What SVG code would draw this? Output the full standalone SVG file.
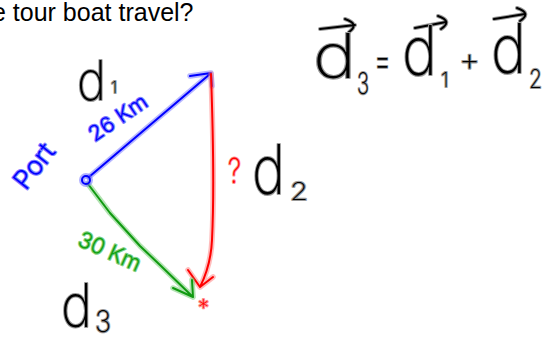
<svg xmlns="http://www.w3.org/2000/svg" width="542" height="338" viewBox="0 0 542 338">
<style>
.q{font-family:"Liberation Sans",Arial,sans-serif;font-size:25px;fill:#000}
.h{font-family:Inter,"Liberation Sans",sans-serif;font-weight:200;fill:#000;stroke:#9a9a9a;stroke-width:2.2;paint-order:stroke;stroke-linejoin:round}
.hb{fill:#0000ff;stroke:#7f7fff;font-weight:300}
.hg{fill:#10a010;stroke:#80d080;font-weight:300}
.hr{fill:#ff0000;stroke:#ff9090}
.line{fill:none;stroke-linecap:round;stroke-linejoin:round}
.halo{stroke-width:5.5;opacity:.5}
.core{stroke-width:2}
.blue{stroke:#0000ff}
.bhalo{stroke:#6f6fff}
.red{stroke:#ff0000}
.rhalo{stroke:#ff7a7a}
.green{stroke:#109a10}
.ghalo{stroke:#66c866}
.ink{fill:none;stroke:#000;stroke-width:2;stroke-linecap:round;stroke-linejoin:round}
.inkhalo{fill:none;stroke:#999;stroke-width:4;stroke-linecap:round;stroke-linejoin:round}
</style>
<g id="question-text">
<text class="q" x="-8" y="21">e tour boat travel?</text>
</g>
<g id="connectors">
<g id="d1-arrow">
<path class="line halo bhalo" d="M89,177 L210,74 M190,76 L211,73 L212,86"/>
<path class="line core blue" d="M89,177 L210,74 M190,76 L211,73 L212,86"/>
</g>
<g id="d2-arrow">
<path class="line halo rhalo" d="M211,74 C213,130 214,200 212,240 C211,262 205,277 200,287 M188,270 L200,287 L213,277"/>
<path class="line core red" d="M211,74 C213,130 214,200 212,240 C211,262 205,277 200,287 M188,270 L200,287 L213,277"/>
</g>
<g id="d3-arrow">
<path class="line halo ghalo" d="M88,184 L110,213 L140,246 L160,265 L193,297 M173,288 L193,297 L192,280"/>
<path class="line core green" d="M88,184 L110,213 L140,246 L160,265 L193,297 M173,288 L193,297 L192,280"/>
</g>
</g>
<g id="port">
<circle cx="86" cy="180" r="4" fill="none" stroke="#6f6fff" stroke-width="6" opacity=".55"/>
<circle cx="86" cy="180" r="4" fill="none" stroke="#0000ff" stroke-width="2"/>
<text class="h hb" font-size="26" text-anchor="middle" transform="translate(34,166) rotate(-52)" y="9" textLength="50" lengthAdjust="spacingAndGlyphs">Port</text>
</g>
<g id="d1-label">
<text class="h" x="77" y="100" font-size="55"><tspan textLength="29" lengthAdjust="spacingAndGlyphs">d</tspan><tspan x="111" y="93" font-size="16">1</tspan></text>
<text class="h hb" font-size="21" text-anchor="middle" transform="translate(118,118) rotate(-34)" y="7" textLength="66" lengthAdjust="spacingAndGlyphs">26 Km</text>
</g>
<g id="d2-label">
<text class="h hr" x="228" y="183" font-size="34" textLength="13" lengthAdjust="spacingAndGlyphs">?</text>
<text class="h" x="252" y="194" font-size="68"><tspan textLength="33" lengthAdjust="spacingAndGlyphs">d</tspan><tspan x="290" y="200" font-size="25" textLength="18" lengthAdjust="spacingAndGlyphs">2</tspan></text>
</g>
<g id="d3-label">
<text class="h hg" font-size="22" text-anchor="middle" transform="translate(110,251) rotate(24)" y="8" textLength="66" lengthAdjust="spacingAndGlyphs">30 Km</text>
<text class="h" x="61" y="327" font-size="60"><tspan textLength="31" lengthAdjust="spacingAndGlyphs">d</tspan><tspan x="95" y="332" font-size="30" textLength="16" lengthAdjust="spacingAndGlyphs">3</tspan></text>
</g>
<g id="destination">
<text class="h hr" x="198" y="315" font-size="22" font-weight="700">*</text>
</g>
<g id="equation">
<path class="inkhalo" d="M320,29 L355,25 M345,19 Q360,24 349,32 M415,28 L446,22 M438,16 Q453,21 441,29 M494,19 L525,14 M517,8 Q532,13 520,21"/>
<path class="ink" d="M320,29 L355,25 M345,19 Q360,24 349,32 M415,28 L446,22 M438,16 Q453,21 441,29 M494,19 L525,14 M517,8 Q532,13 520,21"/>
<text class="h" x="313" y="78" font-size="62"><tspan textLength="43" lengthAdjust="spacingAndGlyphs">d</tspan><tspan x="357" y="94" font-size="30" textLength="12" lengthAdjust="spacingAndGlyphs">3</tspan><tspan x="374" y="74" font-size="40" textLength="17" lengthAdjust="spacingAndGlyphs">=</tspan><tspan x="402" y="75" font-size="68" textLength="35" lengthAdjust="spacingAndGlyphs">d</tspan><tspan x="441" y="87" font-size="20">1</tspan><tspan x="459" y="71" font-size="32" textLength="21" lengthAdjust="spacingAndGlyphs">+</tspan><tspan x="491" y="73" font-size="68" textLength="35" lengthAdjust="spacingAndGlyphs">d</tspan><tspan x="529" y="88" font-size="26" textLength="13" lengthAdjust="spacingAndGlyphs">2</tspan></text>
</g>
</svg>
